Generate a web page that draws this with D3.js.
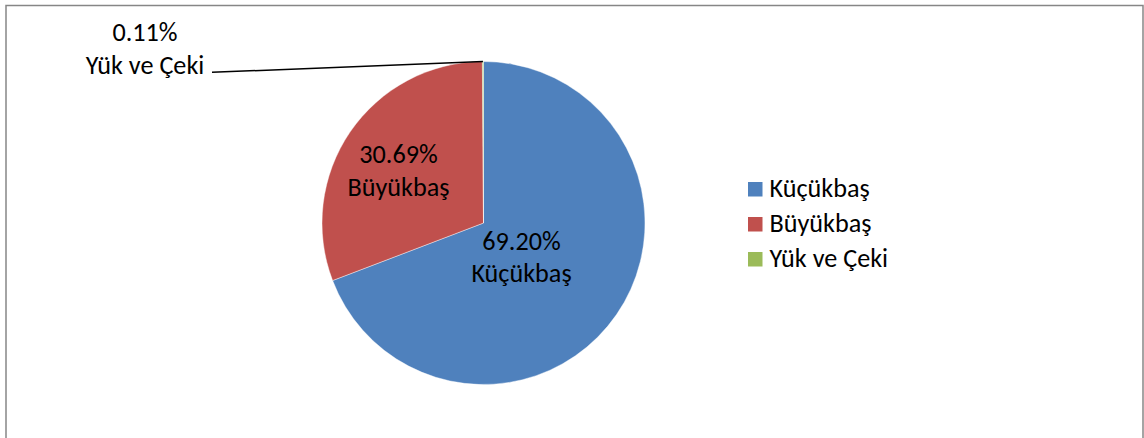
<!DOCTYPE html>
<html>
<head>
<meta charset="utf-8">
<script src="https://cdn.jsdelivr.net/npm/d3@7"></script>
<style>
  body { margin: 0; background: #fff; }
  svg text { font-family: Carlito, Calibri, Lato, sans-serif; fill: #000; }
</style>
</head>
<body>
<div id="chart"></div>
<script>
'use strict';
// data
const categories = ["Küçükbaş", "Büyükbaş", "Yük ve Çeki"];
const shares = [69.20, 30.69, 0.11];
const percentLabels = ["69.20%", "30.69%", "0.11%"];
const sliceColors = ["#4F81BD", "#C0504D", "#9BBB59"];

const width = 1144, height = 438;
const cx = 483.5, cy = 223, radius = 161.5;
const fontSize = 26.2, lineGap = 32.5;

const svg = d3.select("#chart").append("svg")
  .attr("width", width)
  .attr("height", height);

// chart area frame
svg.append("rect")
  .attr("x", 6).attr("y", 5.5)
  .attr("width", 1137).attr("height", 460)
  .attr("fill", "none")
  .attr("stroke", "#868686")
  .attr("stroke-width", 1.5);

const rows = categories.map((c, i) => ({ name: c, value: shares[i], pct: percentLabels[i], color: sliceColors[i] }));

const pie = d3.pie().sort(null).value(d => d.value);
const arcs = pie(rows);
const arc = d3.arc().innerRadius(0).outerRadius(radius);

const g = svg.append("g").attr("transform", "translate(" + cx + "," + cy + ")");

g.selectAll("path.slice")
  .data(arcs)
  .join("path")
  .attr("class", "slice")
  .attr("d", arc)
  .attr("fill", d => d.data.color)
  .attr("stroke", "#fff")
  .attr("stroke-width", 0.6)
  .attr("stroke-opacity", 0.7);

// label placement, Excel "best fit" look: angle shift (deg) and radius fraction
const labelLayout = {
  "Küçükbaş": { shift: 13.9, frac: 0.355 },
  "Büyükbaş": { shift: -7.3, frac: 0.591 }
};

function twoLines(sel, x, y, top, bottom) {
  // y is the middle between the two baselines
  const t = sel.append("text")
    .attr("text-anchor", "middle")
    .attr("font-size", fontSize);
  t.append("tspan").attr("x", x).attr("y", y - lineGap / 2).text(top);
  t.append("tspan").attr("x", x).attr("y", y + lineGap / 2).text(bottom);
  return t;
}

arcs.forEach(a => {
  const lay = labelLayout[a.data.name];
  if (!lay) return;
  const mid = (a.startAngle + a.endAngle) / 2 + lay.shift * Math.PI / 180;
  const p = d3.pointRadial(mid, radius * lay.frac);
  twoLines(g, p[0], p[1], a.data.pct, a.data.name);
});

// outside label for the tiny slice, with leader line
const tiny = arcs[2];
const tinyMid = (tiny.startAngle + tiny.endAngle) / 2;
const tip = d3.pointRadial(tinyMid, radius);
const outLabel = { x: -338.5, y: -165.5 };
const leaderStart = [-271.5, -150.7];

g.append("line")
  .attr("x1", leaderStart[0]).attr("y1", leaderStart[1])
  .attr("x2", tip[0]).attr("y2", tip[1])
  .attr("stroke", "#000")
  .attr("stroke-width", 1.5);

twoLines(g, outLabel.x, outLabel.y, tiny.data.pct, tiny.data.name);

// legend
const legend = svg.append("g").attr("transform", "translate(748,182)");
const item = legend.selectAll("g")
  .data(rows)
  .join("g")
  .attr("transform", (d, i) => "translate(0," + (i * 35) + ")");
item.append("rect")
  .attr("width", 14.5).attr("height", 14.5)
  .attr("fill", d => d.color);
item.append("text")
  .attr("x", 21.5)
  .attr("y", 14.5)
  .attr("font-size", fontSize)
  .text(d => d.name);
</script>
</body>
</html>
